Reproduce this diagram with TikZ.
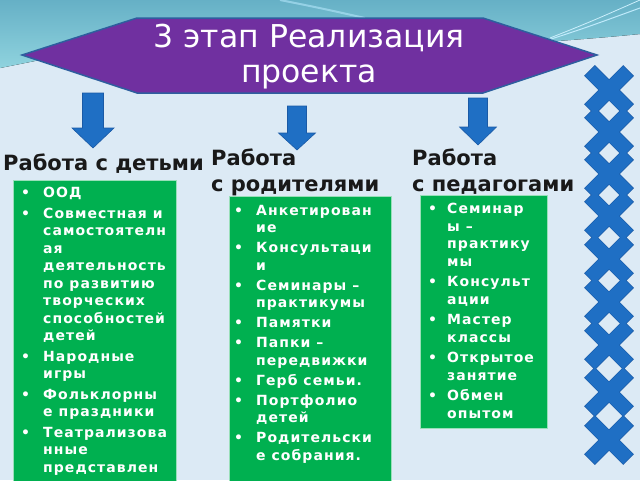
\documentclass[tikz,border=0pt]{standalone}
\usepackage{fontspec}
\setmainfont{DejaVu Sans}
\newfontfamily\boxfont{DejaVu Sans}[LetterSpace=7.5]
\definecolor{bgpale}{HTML}{DCEAF5}
\definecolor{tealtop}{HTML}{66B0C6}
\definecolor{tealbot}{HTML}{8FD3DE}
\definecolor{bannerpurple}{HTML}{7030A0}
\definecolor{bannerline}{HTML}{2E5E9E}
\definecolor{arrowblue}{HTML}{1F6FC4}
\definecolor{arrowedge}{HTML}{1A5AA6}
\definecolor{boxgreen}{HTML}{00B050}
\newcommand{\bi}[2][22pt]{\makebox[#1][l]{\textbullet}#2}
\newcommand{\bc}[2][22pt]{\hspace*{#1}#2}
\tikzset{
  bannertext/.style={text=white, align=center, inner sep=0, font=\fontsize{31.5}{35}\selectfont},
  heading/.style={anchor=north west, inner sep=0, align=left, text=black!90, font=\fontsize{21}{26}\selectfont\bfseries},
  greenbox/.style={fill=boxgreen, draw=white!60!boxgreen, line width=0.8},
  boxtext/.style={anchor=north west, inner sep=0, align=left, text=white, font=\fontsize{14}{17.5}\selectfont\boxfont\bfseries},
  blockarrow/.style={fill=arrowblue, draw=arrowedge, line width=0.6},
  crossedge/.style={draw=arrowedge, line width=1.2},
  crossfill/.style={fill=arrowblue}
}
\begin{document}
\begin{tikzpicture}[x=1pt,y=-1pt]
\useasboundingbox (0,0) rectangle (640,480);
% background
\fill[bgpale] (0,0) rectangle (640,480);
\fill[top color=tealtop, bottom color=tealbot] (0,0) -- (640,0) -- (640,34)
  .. controls (600,38) and (570,40) .. (545,42) -- (300,48) -- (60,56)
  .. controls (40,60) and (20,64) .. (0,68) -- cycle;
\draw[white!75!cyan, line width=1] (545,41) .. controls (585,28) .. (640,8);
\draw[white!80!cyan, line width=0.8] (550,38) .. controls (590,22) .. (640,0);
\draw[white!70!cyan, line width=2, opacity=0.6] (280,0) .. controls (320,8) .. (365,18);
% banner
\fill[bannerpurple, draw=bannerline, line width=1.5] (22,55) -- (137,18) -- (483,18) -- (597,55) -- (483,93) -- (137,93) -- cycle;
\node[bannertext] (title) at (309,57) {3 этап Реализация\\проекта};
% arrows
\fill[blockarrow] (82.5,93) -- (103.5,93) -- (103.5,128) -- (114,128) -- (93,148) -- (72,128) -- (82.5,128) -- cycle;
\fill[blockarrow] (287.5,106) -- (306.5,106) -- (306.5,133) -- (315.5,133) -- (297,150) -- (278.5,133) -- (287.5,133) -- cycle;
\fill[blockarrow] (468.5,98) -- (487.5,98) -- (487.5,127) -- (496.5,127) -- (478,145) -- (459.5,127) -- (468.5,127) -- cycle;
% headings
\node[heading] (h1) at (3,154) {Работа с детьми};
\node[heading] (h2) at (211,149) {Работа\\с родителями};
\node[heading] (h3) at (412,149) {Работа\\с педагогами};
% boxes
\fill[greenbox] (13,180) rectangle (176,482);
\fill[greenbox] (229,196) rectangle (391,482);
\fill[greenbox] (420,195) rectangle (547,428);
\node[boxtext] (t1) at (21,187) {%
\bi{ООД}\\[3pt]
\bi{Совместная и}\\
\bc{самостоятелн}\\
\bc{ая}\\
\bc{деятельность}\\
\bc{по развитию}\\
\bc{творческих}\\
\bc{способностей}\\
\bc{детей}\\[3pt]
\bi{Народные}\\
\bc{игры}\\[3pt]
\bi{Фольклорны}\\
\bc{е праздники}\\[3pt]
\bi{Театрализова}\\
\bc{нные}\\
\bc{представлен}};
\node[boxtext] (t2) at (234,205) {%
\bi{Анкетирован}\\
\bc{ие}\\[2.5pt]
\bi{Консультаци}\\
\bc{и}\\[2.5pt]
\bi{Семинары –}\\
\bc{практикумы}\\[2.5pt]
\bi{Памятки}\\[2.5pt]
\bi{Папки –}\\
\bc{передвижки}\\[2.5pt]
\bi{Герб семьи.}\\[2.5pt]
\bi{Портфолио}\\
\bc{детей}\\[2.5pt]
\bi{Родительски}\\
\bc{е собрания.}};
\node[boxtext] (t3) at (428,203) {%
\bi[19pt]{Семинар}\\
\bc[19pt]{ы –}\\
\bc[19pt]{практику}\\
\bc[19pt]{мы}\\[3pt]
\bi[19pt]{Консульт}\\
\bc[19pt]{ации}\\[3pt]
\bi[19pt]{Мастер}\\
\bc[19pt]{классы}\\[3pt]
\bi[19pt]{Открытое}\\
\bc[19pt]{занятие}\\[3pt]
\bi[19pt]{Обмен}\\
\bc[19pt]{опытом}};
% crosses: outlines first, then fills on top
\foreach \cy in {90,132,174,216,259,302,345,392,440}{
  \draw[crossedge] [rotate around={45:(609,\cy)}] (582,\cy-7) rectangle (636,\cy+7);
  \draw[crossedge] [rotate around={-45:(609,\cy)}] (582,\cy-7) rectangle (636,\cy+7);
}
\foreach \cy in {90,132,174,216,259,302,345,392,440}{
  \fill[crossfill] [rotate around={45:(609,\cy)}] (582,\cy-7) rectangle (636,\cy+7);
  \fill[crossfill] [rotate around={-45:(609,\cy)}] (582,\cy-7) rectangle (636,\cy+7);
}
\end{tikzpicture}
\end{document}
